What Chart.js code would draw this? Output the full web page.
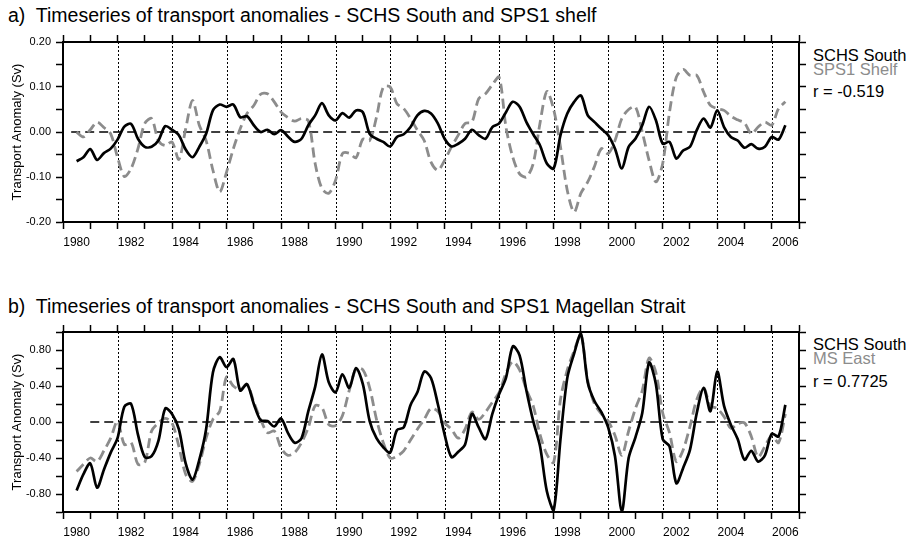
<!DOCTYPE html>
<html>
<head>
<meta charset="utf-8">
<script src="https://cdn.jsdelivr.net/npm/chart.js@4.4.0/dist/chart.umd.min.js"></script>
<style>
  body { margin: 0; background: #fff; width: 909px; height: 537px; overflow: hidden; position: relative;
         font-family: "Liberation Sans", Arial, sans-serif; }
  canvas { position: absolute; left: 0; }
  #chartA { top: 0; }
  #chartB { top: 290px; }
  .title { position: absolute; left: 8px; font-size: 19.5px; line-height: 19.5px; white-space: nowrap; color: #000; }
  .leg { position: absolute; left: 813px; font-size: 16.5px; line-height: 16.5px; white-space: nowrap; color: #000; }
  .grey { color: #8c8c8c; }
</style>
</head>
<body>
<div class="title" style="top:6px">a)&nbsp; Timeseries of transport anomalies - SCHS South and SPS1 shelf</div>
<div class="leg" style="top:47px">SCHS South</div>
<div class="leg grey" style="top:61px">SPS1 Shelf</div>
<div class="leg" style="top:83px">r = -0.519</div>
<canvas id="chartA" width="909" height="260"></canvas>

<div class="title" style="top:297px">b)&nbsp; Timeseries of transport anomalies - SCHS South and SPS1 Magellan Strait</div>
<div class="leg" style="top:336px">SCHS South</div>
<div class="leg grey" style="top:350px">MS East</div>
<div class="leg" style="top:373px">r = 0.7725</div>
<canvas id="chartB" width="909" height="247"></canvas>

<script>
// quarterly sample times (decimal years)
const years = [
  1980.5, 1980.75, 1981, 1981.25, 1981.5, 1981.75, 1982, 1982.25, 1982.5, 1982.75,
  1983, 1983.25, 1983.5, 1983.75, 1984, 1984.25, 1984.5, 1984.75, 1985, 1985.25,
  1985.5, 1985.75, 1986, 1986.25, 1986.5, 1986.75, 1987, 1987.25, 1987.5, 1987.75,
  1988, 1988.25, 1988.5, 1988.75, 1989, 1989.25, 1989.5, 1989.75, 1990, 1990.25,
  1990.5, 1990.75, 1991, 1991.25, 1991.5, 1991.75, 1992, 1992.25, 1992.5, 1992.75,
  1993, 1993.25, 1993.5, 1993.75, 1994, 1994.25, 1994.5, 1994.75, 1995, 1995.25,
  1995.5, 1995.75, 1996, 1996.25, 1996.5, 1996.75, 1997, 1997.25, 1997.5, 1997.75,
  1998, 1998.25, 1998.5, 1998.75, 1999, 1999.25, 1999.5, 1999.75, 2000, 2000.25,
  2000.5, 2000.75, 2001, 2001.25, 2001.5, 2001.75, 2002, 2002.25, 2002.5, 2002.75,
  2003, 2003.25, 2003.5, 2003.75, 2004, 2004.25, 2004.5, 2004.75, 2005, 2005.25,
  2005.5, 2005.75, 2006, 2006.25, 2006.5
];

// panel a) SCHS South vs SPS1 shelf (Sv)
const schsSouthA = [
  -0.065, -0.056, -0.038, -0.062, -0.047, -0.037, -0.017, 0.012, 0.018, -0.015,
  -0.033, -0.033, -0.019, 0.013, 0.005, -0.007, -0.039, -0.056, -0.033, -0.004,
  0.048, 0.061, 0.056, 0.061, 0.033, 0.035, 0.015, 0.000, 0.005, -0.005,
  0.004, -0.010, -0.022, -0.015, 0.015, 0.037, 0.064, 0.037, 0.026, 0.042,
  0.032, 0.048, 0.044, -0.004, -0.015, -0.022, -0.032, -0.011, -0.005, 0.011,
  0.037, 0.047, 0.041, 0.019, -0.015, -0.032, -0.026, -0.015, 0.005, -0.007,
  -0.015, 0.011, 0.019, 0.044, 0.067, 0.056, 0.022, -0.005, -0.030, -0.070,
  -0.081, -0.007, 0.041, 0.067, 0.081, 0.037, 0.022, 0.007, -0.007, -0.037,
  -0.081, -0.033, -0.015, 0.015, 0.056, 0.026, -0.026, -0.022, -0.059, -0.041,
  -0.033, 0.004, 0.030, 0.010, 0.048, 0.011, -0.011, -0.019, -0.035, -0.027,
  -0.037, -0.033, -0.011, -0.017, 0.015
];
const sps1Shelf = [
  0.000, -0.011, 0.005, 0.022, 0.010, -0.004, -0.056, -0.099, -0.081, -0.037,
  0.019, 0.030, -0.019, -0.030, -0.022, -0.061, 0.007, 0.070, 0.015, -0.019,
  -0.085, -0.133, -0.089, -0.037, 0.007, 0.041, 0.059, 0.084, 0.085, 0.067,
  0.044, 0.032, 0.024, 0.030, 0.025, -0.070, -0.126, -0.136, -0.107, -0.048,
  -0.047, -0.057, -0.016, -0.019, 0.033, 0.100, 0.100, 0.063, 0.052, 0.030,
  0.004, -0.019, -0.067, -0.085, -0.063, -0.033, -0.007, 0.019, 0.022, 0.074,
  0.085, 0.105, 0.122, 0.011, -0.056, -0.093, -0.100, -0.070, 0.020, 0.090,
  0.050, -0.033, -0.130, -0.178, -0.136, -0.111, -0.076, -0.037, -0.048, -0.019,
  0.030, 0.050, 0.056, 0.000, -0.063, -0.111, -0.070, 0.044, 0.122, 0.139,
  0.126, 0.126, 0.089, 0.059, 0.052, 0.048, 0.035, 0.027, 0.020, -0.004,
  0.011, 0.022, 0.015, 0.052, 0.067
];

// panel b) SCHS South vs MS East (Sv)
const schsSouthB = [
  -0.76, -0.58, -0.46, -0.73, -0.53, -0.34, -0.18, 0.17, 0.20, -0.14,
  -0.39, -0.38, -0.21, 0.15, 0.09, -0.08, -0.46, -0.64, -0.42, -0.08,
  0.55, 0.72, 0.61, 0.70, 0.35, 0.42, 0.20, 0.02, 0.01, -0.05,
  0.04, -0.12, -0.23, -0.18, 0.12, 0.39, 0.75, 0.44, 0.33, 0.53,
  0.38, 0.60, 0.42, 0.01, -0.18, -0.28, -0.34, -0.09, -0.06, 0.19,
  0.33, 0.56, 0.49, 0.20, -0.14, -0.39, -0.33, -0.25, 0.09, -0.06,
  -0.19, 0.09, 0.31, 0.49, 0.84, 0.74, 0.35, 0.01, -0.27, -0.77,
  -0.98, -0.19, 0.49, 0.76, 0.98, 0.44, 0.23, 0.11, -0.06, -0.38,
  -0.99, -0.40, -0.17, 0.10, 0.66, 0.42, -0.19, -0.27, -0.68, -0.51,
  -0.31, 0.10, 0.38, 0.12, 0.56, 0.18, -0.03, -0.19, -0.42, -0.32,
  -0.44, -0.37, -0.13, -0.16, 0.19
];
const msEast = [
  -0.55, -0.47, -0.40, -0.44, -0.32, -0.18, 0.01, -0.25, -0.23, -0.47,
  -0.45, -0.10, -0.01, 0.04, -0.01, -0.27, -0.58, -0.66, -0.47, -0.18,
  0.03, 0.12, 0.50, 0.40, 0.36, 0.42, 0.22, 0.03, -0.12, -0.10,
  -0.29, -0.37, -0.34, -0.23, -0.06, 0.18, 0.16, -0.03, -0.04, 0.07,
  0.35, 0.59, 0.58, 0.38, 0.03, -0.23, -0.40, -0.38, -0.32, -0.20,
  -0.08, 0.03, 0.15, 0.12, -0.01, -0.08, -0.18, -0.08, 0.11, 0.03,
  0.11, 0.22, 0.33, 0.54, 0.67, 0.58, 0.36, 0.18, -0.14, -0.36,
  -0.45, 0.25, 0.58, 0.79, 0.97, 0.46, 0.20, 0.09, 0.01, -0.15,
  -0.37, -0.10, 0.15, 0.35, 0.71, 0.55, 0.10, -0.12, -0.44, -0.31,
  -0.05, 0.25, 0.38, 0.18, 0.15, 0.06, -0.07, -0.02, -0.01, -0.16,
  -0.39, -0.27, -0.15, -0.23, 0.09
];

const dottedYears = [1982, 1984, 1986, 1988, 1990, 1992, 1994, 1996, 1998, 2000, 2002, 2004, 2006];
const zeroSpanA = [1980.3, 2006.5];
const zeroSpanB = [1981.0, 2006.4];

const FONT = '"Liberation Sans", Arial, sans-serif';
const GREY = '#8c8c8c';

const yearLines = {
  id: 'yearLines',
  beforeDatasetsDraw(chart) {
    const {ctx, chartArea, scales} = chart;
    ctx.save();
    ctx.strokeStyle = '#000';
    ctx.lineWidth = 1;
    ctx.setLineDash([2, 2]);
    dottedYears.forEach(yr => {
      const px = Math.round(scales.x.getPixelForValue(yr)) + 0.5;
      ctx.beginPath();
      ctx.moveTo(px, chartArea.top);
      ctx.lineTo(px, chartArea.bottom);
      ctx.stroke();
    });
    ctx.restore();
  }
};

const pts = vals => vals.map((v, i) => ({x: years[i], y: v}));

function axisX(pos, h, labels) {
  return {
    type: 'linear', position: pos, min: 1980, max: 2007,
    ticks: {
      display: labels, stepSize: 1, autoSkip: false, maxRotation: 0, labelOffset: 13.6,
      padding: 6, color: '#000', font: {family: FONT, size: 12},
      callback: v => (v % 2 === 0 && v < 2007) ? String(v) : ''
    },
    grid: {drawOnChartArea: false, drawTicks: true, tickLength: 7, tickColor: '#000', tickWidth: 1.5},
    border: {display: true, color: '#000', width: 2},
    afterFit: s => { s.height = h; }
  };
}

function axisY(pos, w, min, max, step, labelEvery, labels) {
  const ax = {
    type: 'linear', position: pos, min: min, max: max,
    ticks: {
      display: labels, stepSize: step, autoSkip: false, padding: 5, color: '#000',
      font: {family: FONT, size: 11},
      callback: v => {
        const k = Math.round(v / step);
        if (k % labelEvery !== 0) return '';
        const r = Math.round(v * 100) / 100;
        return (r === 0 ? 0 : r).toFixed(2);
      }
    },
    grid: {drawOnChartArea: false, drawTicks: true, tickLength: 7, tickColor: '#000', tickWidth: 1.5},
    border: {display: true, color: '#000', width: 2},
    afterFit: s => { s.width = w; }
  };
  if (labels) {
    ax.title = {display: true, text: 'Transport Anomaly (Sv)', color: '#000',
                font: {family: FONT, size: 13}, padding: {top: 10, bottom: 0}};
  }
  return ax;
}

function makeChart(id, black, grey, zeroSpan, yMin, yMax, yStep, labelEvery, topH, botH) {
  return new Chart(document.getElementById(id), {
    type: 'line',
    data: {
      datasets: [
        {data: pts(black), borderColor: '#000', borderWidth: 2.7, pointRadius: 0, tension: 0.3, fill: false},
        {data: pts(grey), borderColor: GREY, borderWidth: 2.8, borderDash: [10, 5], pointRadius: 0, tension: 0.3, fill: false},
        {data: zeroSpan.map(t => ({x: t, y: 0})), borderColor: '#000', borderWidth: 1.3, borderDash: [9, 5], pointRadius: 0, fill: false}
      ]
    },
    options: {
      responsive: false,
      animation: false,
      layout: {padding: 0},
      plugins: {legend: {display: false}, tooltip: {enabled: false}},
      scales: {
        x: axisX('bottom', botH, true),
        xTop: axisX('top', topH, false),
        y: axisY('left', 63, yMin, yMax, yStep, labelEvery, true),
        yRight: axisY('right', 110, yMin, yMax, yStep, labelEvery, false)
      }
    },
    plugins: [yearLines]
  });
}

makeChart('chartA', schsSouthA, sps1Shelf, zeroSpanA, -0.2, 0.2, 0.05, 2, 42, 38);
makeChart('chartB', schsSouthB, msEast, zeroSpanB, -1.0, 1.0, 0.2, 2, 42, 25);
</script>
</body>
</html>
